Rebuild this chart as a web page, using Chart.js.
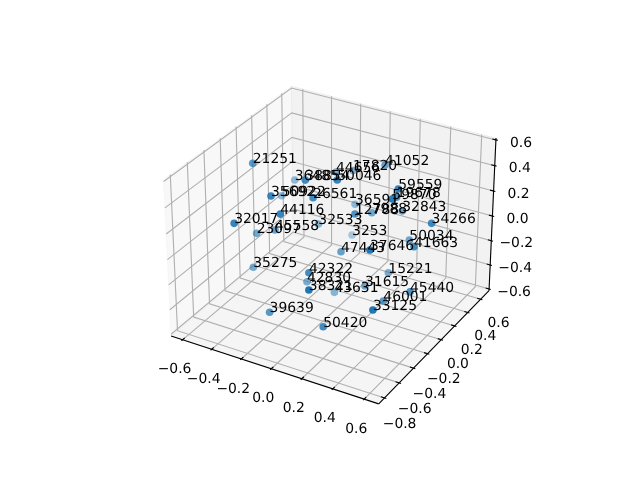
<!DOCTYPE html>
<html>
<head>
<meta charset="utf-8">
<style>
  body { margin: 0; background: #fff; }
</style>
<script src="https://cdn.jsdelivr.net/npm/chart.js@4"></script>
</head>
<body>
<canvas id="chart" width="640" height="480"></canvas>
<script>
// values
const labels = ["21251","41052","17820","44656","50046","36485","38854","35692","50922","26561",
  "44116","32017","23097","45558","32533","36591","12788","7988","59559","59870",
  "19678","32843","34266","3253","50034","41663","47443","37646","35275","42322",
  "42830","38321","43631","31615","15221","45440","46001","33125","39639","50420"];
const xs = [-0.423,0.196,-0.026,-0.109,0.125,-0.381,-0.066,-0.172,-0.424,-0.006,
  -0.102,-0.311,-0.381,-0.256,-0.159,-0.037,0.187,0.164,0.431,0.450,
  0.367,0.347,0.607,-0.077,0.391,0.554,0.102,0.448,-0.387,0.081,
  -0.096,0.213,0.022,0.236,0.300,0.566,0.415,0.544,-0.128,0.226];
const ys = [-0.271,0.241,0.266,0.203,-0.259,0.185,-0.290,-0.520,0.092,-0.310,
  -0.541,-0.718,-0.319,-0.319,0.062,0.320,-0.150,0.131,-0.085,-0.207,
  0.036,0.165,0.002,0.364,0.178,-0.122,-0.160,-0.496,-0.360,-0.542,
  -0.220,-0.804,-0.086,-0.107,0.084,-0.191,-0.233,-0.654,-0.646,-0.649];
const zs = [0.534,0.478,0.353,0.344,0.576,0.202,0.529,0.484,0.107,0.423,
  0.380,0.327,0.024,0.093,-0.017,0.054,0.284,0.147,0.524,0.514,
  0.382,0.206,0.278,-0.231,-0.016,0.143,-0.036,0.273,-0.229,-0.008,
  -0.315,0.046,-0.431,-0.290,-0.261,-0.170,-0.276,-0.067,-0.342,-0.321];
const xTicks = [-0.6,-0.4,-0.2,0,0.2,0.4,0.6];
const yTicks = [-0.8,-0.6,-0.4,-0.2,0,0.2,0.4,0.6];
const zTicks = [-0.6,-0.4,-0.2,0,0.2,0.4,0.6];
const xLim = [-0.652,0.664];
const yLim = [-0.8455,0.7005];
const zLim = [-0.59,0.59];

// same camera as a default mplot3d axes: elev 30, azim -60, box 4:4:3
const box = [1.1429,1.1429,0.8571];
const u = [0.866,0.5,0];
const v = [-0.25,0.433,0.866];
const w = [0.433,-0.75,0.5];
const dist = 10;

// xu,yu,zu are 0..1 inside the box
function projectUnit(xu, yu, zu) {
  const d = [(xu-0.5)*box[0],(yu-0.5)*box[1],(zu-0.5)*box[2]];
  const dot = a => a[0]*d[0]+a[1]*d[1]+a[2]*d[2];
  const depth = dist-dot(w);
  return { x: dot(u)/depth, y: dot(v)/depth, w: dot(w) };
}
const unitX = x => (x-xLim[0])/(xLim[1]-xLim[0]);
const unitY = y => (y-yLim[0])/(yLim[1]-yLim[0]);
const unitZ = z => (z-zLim[0])/(zLim[1]-zLim[0]);

const points = xs.map((x,i) => {
  const p = projectUnit(unitX(x),unitY(ys[i]),unitZ(zs[i]));
  return { x: p.x, y: p.y, w: p.w, label: labels[i] };
}).sort((a,b) => a.w-b.w);
// depth shading, far points fade
const colors = points.map(p => {
  const a = Math.min(1,Math.max(0.25,0.25+(p.w+0.5)*0.75));
  return `rgba(31,119,180,${a.toFixed(3)})`;
});

const lo = -1/48, hi = 1+1/48;
const fmt = t => (t<0 ? "\u2212" : "")+Math.abs(t).toFixed(1);

const axes3d = {
  id: "axes3d",
  beforeDatasetsDraw(chart) {
    const { ctx, scales } = chart;
    const px = p => [scales.x.getPixelForValue(p.x),scales.y.getPixelForValue(p.y)];
    const at = (a,b,c) => px(projectUnit(a,b,c));
    const path = pts => {
      ctx.beginPath();
      pts.forEach((p,i) => i ? ctx.lineTo(p[0],p[1]) : ctx.moveTo(p[0],p[1]));
    };
    ctx.save();
    // panes
    const pane = (pts,c) => {
      path(pts); ctx.closePath();
      ctx.fillStyle = c; ctx.strokeStyle = c; ctx.lineWidth = 1;
      ctx.fill(); ctx.stroke();
    };
    pane([at(lo,lo,lo),at(lo,hi,lo),at(lo,hi,hi),at(lo,lo,hi)],"rgba(242,242,242,0.5)");
    pane([at(lo,hi,lo),at(hi,hi,lo),at(hi,hi,hi),at(lo,hi,hi)],"rgba(230,230,230,0.5)");
    pane([at(lo,lo,lo),at(hi,lo,lo),at(hi,hi,lo),at(lo,hi,lo)],"rgba(236,236,236,0.5)");
    // grid
    ctx.strokeStyle = "#b0b0b0";
    ctx.lineWidth = 1.11;
    xTicks.forEach(t => { const a = unitX(t); path([at(a,lo,lo),at(a,hi,lo),at(a,hi,hi)]); ctx.stroke(); });
    yTicks.forEach(t => { const b = unitY(t); path([at(hi,b,lo),at(lo,b,lo),at(lo,b,hi)]); ctx.stroke(); });
    zTicks.forEach(t => { const c = unitZ(t); path([at(lo,lo,c),at(lo,hi,c),at(hi,hi,c)]); ctx.stroke(); });
    // axis lines
    ctx.strokeStyle = "#000";
    path([at(lo,lo,lo),at(hi,lo,lo)]); ctx.stroke();
    path([at(hi,lo,lo),at(hi,hi,lo)]); ctx.stroke();
    path([at(hi,hi,lo),at(hi,hi,hi)]); ctx.stroke();
    // ticks and tick labels
    const d = (hi-lo)/12;
    ctx.fillStyle = "#000";
    ctx.font = "13.89px 'DejaVu Sans'";
    ctx.textRendering = "geometricPrecision";
    ctx.textAlign = "center";
    ctx.textBaseline = "middle";
    xTicks.forEach(t => {
      const a = unitX(t), p = at(a,lo,lo);
      path([at(a,lo-0.1*d,lo),at(a,lo+0.2*d,lo)]); ctx.stroke();
      ctx.fillText(fmt(t),p[0]-8,p[1]+30);
    });
    yTicks.forEach(t => {
      const b = unitY(t), p = at(hi,b,lo);
      path([at(hi+0.1*d,b,lo),at(hi-0.2*d,b,lo)]); ctx.stroke();
      ctx.fillText(fmt(t),p[0]+15+3*b,p[1]+27-3.5*b);
    });
    zTicks.forEach(t => {
      const c = unitZ(t), p = at(hi,hi,c);
      path([at(hi+0.1*d,hi,c),at(hi-0.2*d,hi,c)]); ctx.stroke();
      ctx.fillText(fmt(t),p[0]+25,p[1]+3);
    });
    ctx.restore();
  },
  afterDatasetsDraw(chart) {
    const { ctx, scales } = chart;
    ctx.save();
    ctx.fillStyle = "#000";
    ctx.font = "13.89px 'DejaVu Sans'";
    ctx.textRendering = "geometricPrecision";
    ctx.textAlign = "left";
    ctx.textBaseline = "alphabetic";
    points.forEach(p => ctx.fillText(p.label,scales.x.getPixelForValue(p.x),scales.y.getPixelForValue(p.y)));
    ctx.restore();
  }
};

new Chart(document.getElementById("chart"), {
  type: "scatter",
  data: {
    datasets: [{
      data: points,
      backgroundColor: colors,
      borderWidth: 0,
      pointRadius: 3.8,
      clip: false
    }]
  },
  options: {
    responsive: false,
    animation: false,
    layout: { padding: { left: 143.2, right: 127.2, top: 57.6, bottom: 52.8 } },
    plugins: { legend: { display: false }, tooltip: { enabled: false } },
    scales: {
      x: { type: "linear", min: -0.095, max: 0.09, display: false },
      y: { type: "linear", min: -0.095, max: 0.09, display: false }
    }
  },
  plugins: [axes3d]
});
</script>
</body>
</html>
